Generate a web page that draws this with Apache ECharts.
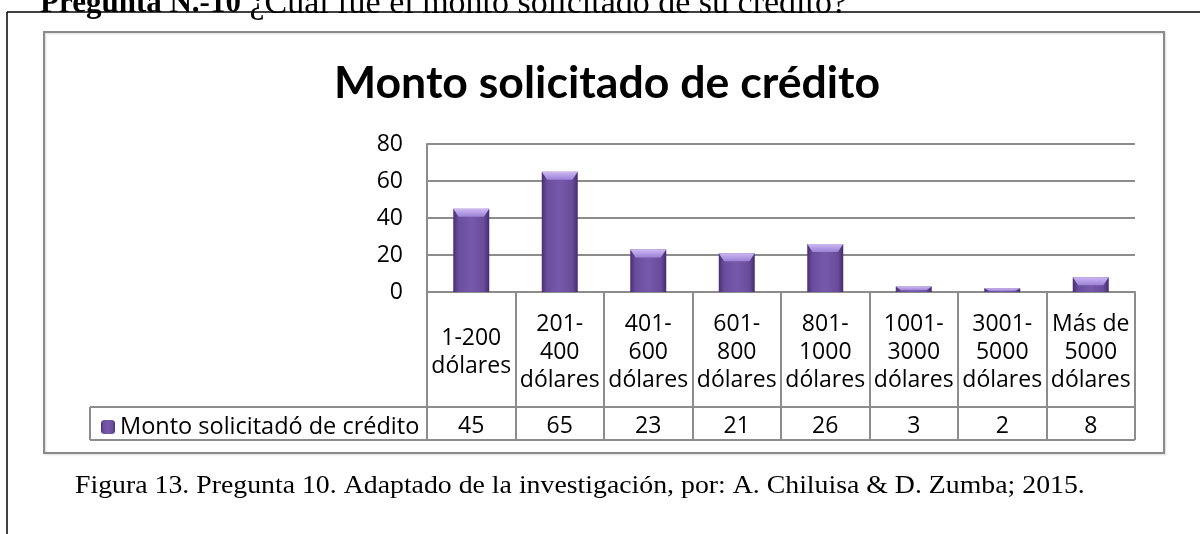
<!doctype html>
<html lang="es">
<head>
  <meta charset="utf-8">
  <title>Monto solicitado de crédito</title>
  <script src="https://cdn.jsdelivr.net/npm/echarts@6/dist/echarts.min.js"></script>
  <style>
    html, body { margin: 0; padding: 0; background: #fff; }
    #chart { width: 1200px; height: 534px; }
  </style>
</head>
<body>
  <div id="chart"></div>
  <script>
    // datos
    var categorias = ['1-200\ndólares', '201-\n400\ndólares', '401-\n600\ndólares', '601-\n800\ndólares',
      '801-\n1000\ndólares', '1001-\n3000\ndólares', '3001-\n5000\ndólares', 'Más de\n5000\ndólares'];
    var valores = [45, 65, 23, 21, 26, 3, 2, 8];
    var nombreSerie = 'Monto solicitadó de crédito';
    var titulo = 'Monto solicitado de crédito';
    var pregunta = '¿Cuál fue el monto solicitado de su crédito?';
    var leyendaFigura = 'Figura 13. Pregunta 10. Adaptado de la investigación, por: A. Chiluisa & D. Zumba; 2015.';

    var gris = '#8c8c8c';
    var fuente = 'Open Sans';

    var chart = echarts.init(document.getElementById('chart'));

    // tapa clara arriba de cada barra
    var tapas = valores.map(function (v) {
      return { value: v, symbolSize: [36, Math.min(8, v * 1.3)] };
    });

    var option = {
      animation: false,
      title: {
        text: titulo,
        left: 329,
        top: 56,
        textStyle: { fontFamily: 'Lato', fontWeight: 'bold', fontSize: 44.6, color: '#000' }
      },
      legend: {
        data: [nombreSerie],
        left: 96,
        top: 410,
        itemWidth: 14,
        itemHeight: 14,
        textStyle: { fontFamily: fuente, fontSize: 23.5, color: '#000' }
      },
      grid: { left: 427, right: 65, top: 144, bottom: 242 },
      xAxis: [
        {
          type: 'category',
          data: categorias,
          axisLine: { lineStyle: { color: gris, width: 2 } },
          axisTick: { show: true, interval: 0, length: 148, lineStyle: { color: gris, width: 2 } },
          axisLabel: {
            interval: 0, margin: 60, verticalAlign: 'middle', lineHeight: 28,
            fontFamily: fuente, fontSize: 23, color: '#000'
          }
        },
        {
          type: 'category',
          data: categorias,
          position: 'bottom',
          axisLine: { show: false },
          axisTick: { show: false },
          axisLabel: {
            interval: 0, margin: 134, verticalAlign: 'middle',
            fontFamily: fuente, fontSize: 23, color: '#000',
            formatter: function (v, i) { return String(valores[i]); }
          }
        }
      ],
      yAxis: {
        type: 'value',
        min: 0, max: 80, interval: 20,
        axisLine: { show: true, lineStyle: { color: gris, width: 2 } },
        axisTick: { show: false },
        splitLine: { lineStyle: { color: gris, width: 2 } },
        axisLabel: { margin: 24, fontFamily: fuente, fontSize: 23, color: '#000' }
      },
      series: [
        {
          name: nombreSerie,
          type: 'bar',
          barWidth: 36,
          data: valores,
          itemStyle: {
            color: new echarts.graphic.LinearGradient(0, 0, 1, 0, [
              { offset: 0, color: '#4a2e72' },
              { offset: 0.15, color: '#6a4e9e' },
              { offset: 0.5, color: '#7659aa' },
              { offset: 0.85, color: '#684c9a' },
              { offset: 1, color: '#472b6e' }
            ])
          }
        },
        {
          type: 'pictorialBar',
          barWidth: 36,
          symbol: 'path://M0,0 L10,0 L8.5,2 L1.5,2 Z',
          symbolPosition: 'end',
          data: tapas,
          z: 3,
          itemStyle: {
            color: new echarts.graphic.LinearGradient(0, 0, 0, 1, [
              { offset: 0, color: '#cdb9f2' },
              { offset: 1, color: '#9c82d6' }
            ])
          }
        }
      ],
      graphic: [
        // marco de la pagina
        { type: 'line', shape: { x1: 7, y1: 12, x2: 1200, y2: 12 }, style: { stroke: '#000', lineWidth: 1.5 } },
        { type: 'line', shape: { x1: 7, y1: 12, x2: 7, y2: 534 }, style: { stroke: '#000', lineWidth: 1.5 } },
        // marco del grafico
        {
          type: 'rect', shape: { x: 44, y: 32, width: 1120, height: 421 },
          style: { fill: 'none', stroke: '#8a8a8a', lineWidth: 2, shadowColor: 'rgba(0,0,0,0.15)', shadowBlur: 2, shadowOffsetX: 1, shadowOffsetY: 1 }
        },
        // lineas de la tabla de datos
        { type: 'line', shape: { x1: 90, y1: 407, x2: 1135, y2: 407 }, style: { stroke: gris, lineWidth: 2 } },
        { type: 'line', shape: { x1: 90, y1: 440, x2: 1135, y2: 440 }, style: { stroke: gris, lineWidth: 2 } },
        { type: 'line', shape: { x1: 90, y1: 407, x2: 90, y2: 440 }, style: { stroke: gris, lineWidth: 2 } },
        // texto del documento
        {
          type: 'text', x: 40, y: 21,
          style: {
            text: '{b|Pregunta N.-10} ' + pregunta,
            verticalAlign: 'bottom',
            font: '34px "Liberation Serif"',
            fill: '#000',
            rich: { b: { fontWeight: 'bold', fontSize: 31, fontFamily: 'Liberation Serif' } }
          }
        },
        {
          type: 'text', x: 75, y: 487, scaleY: 0.88,
          style: {
            text: leyendaFigura,
            verticalAlign: 'middle',
            font: '27.8px "Liberation Serif"',
            fill: '#000'
          }
        }
      ]
    };

    chart.setOption(option);
  </script>
</body>
</html>
